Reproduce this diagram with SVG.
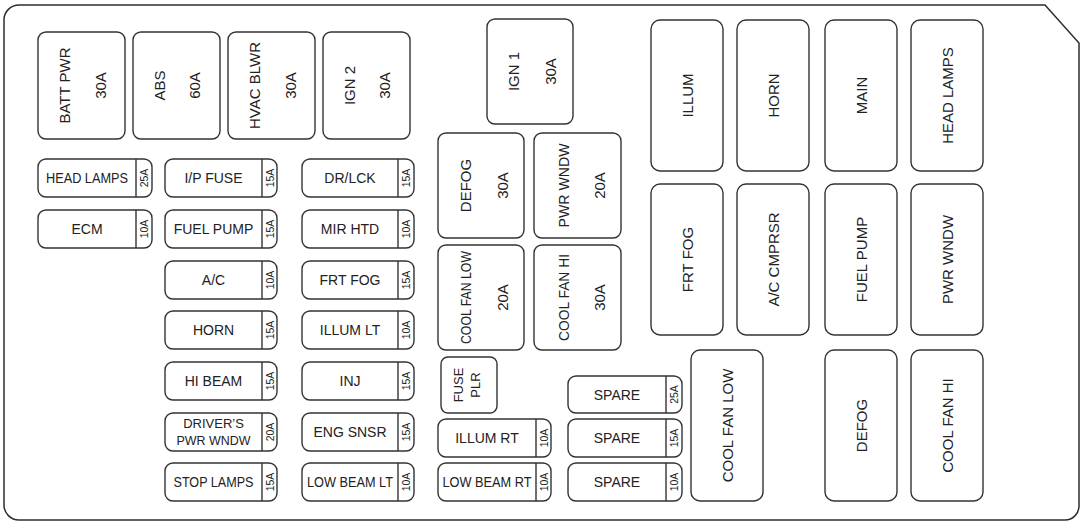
<svg xmlns="http://www.w3.org/2000/svg" width="1083" height="525" viewBox="0 0 1083 525">
<style>
.bg{fill:#fff}
.frame{fill:#fff;stroke:#2e2e2e;stroke-width:1.5}
.box{fill:#fff;stroke:#333;stroke-width:1.4}
.dv{stroke:#333;stroke-width:1.4}
text{font-family:"Liberation Sans",Arial,Helvetica,sans-serif;fill:#222;text-anchor:middle;dominant-baseline:central}
.t15{font-size:15px}
.t14{font-size:14px}
.t13{font-size:13px}
.ta{font-size:10.5px}
</style>
<rect class="bg" x="0" y="0" width="1083" height="525"/>
<path id="frame" class="frame" d="M19,5 H1045 L1079,43 V506 A14,14 0 0 1 1065,520 H19 A15,15 0 0 1 4,505 V20 A15,15 0 0 1 19,5 Z"/>
<g id="connectors"/>

<!-- Large fuses -->
<g id="batt-pwr"><rect class="box" x="38" y="32" width="87" height="107" rx="8"/><text class="t15" x="64.5" y="85.5" transform="rotate(-90 64.5 85.5)">BATT PWR</text><text class="t15" x="100.5" y="85.5" transform="rotate(-90 100.5 85.5)">30A</text></g>
<g id="abs"><rect class="box" x="133" y="32" width="87" height="107" rx="8"/><text class="t15" x="159.5" y="85.5" transform="rotate(-90 159.5 85.5)">ABS</text><text class="t15" x="194.5" y="85.5" transform="rotate(-90 194.5 85.5)">60A</text></g>
<g id="hvac-blwr"><rect class="box" x="228" y="32" width="87" height="107" rx="8"/><text class="t15" x="254.5" y="85.5" transform="rotate(-90 254.5 85.5)">HVAC BLWR</text><text class="t15" x="290.5" y="85.5" transform="rotate(-90 290.5 85.5)">30A</text></g>
<g id="ign2"><rect class="box" x="323" y="32" width="87" height="107" rx="8"/><text class="t15" x="349" y="85.5" transform="rotate(-90 349 85.5)">IGN 2</text><text class="t15" x="384.5" y="85.5" transform="rotate(-90 384.5 85.5)">30A</text></g>
<g id="ign1"><rect class="box" x="487" y="19" width="86" height="105" rx="8"/><text class="t15" x="513" y="71.5" transform="rotate(-90 513 71.5)">IGN 1</text><text class="t15" x="550" y="71.5" transform="rotate(-90 550 71.5)">30A</text></g>
<g id="defog-fuse"><rect class="box" x="438" y="133" width="86" height="105" rx="8"/><text class="t15" x="465" y="185.5" transform="rotate(-90 465 185.5)">DEFOG</text><text class="t15" x="502" y="185.5" transform="rotate(-90 502 185.5)">30A</text></g>
<g id="pwr-wndw-fuse"><rect class="box" x="534" y="133" width="87" height="105" rx="8"/><text class="t15" x="563" y="185.5" transform="rotate(-90 563 185.5)" textLength="84" lengthAdjust="spacingAndGlyphs">PWR WNDW</text><text class="t15" x="599" y="185.5" transform="rotate(-90 599 185.5)">20A</text></g>
<g id="cool-fan-low-fuse"><rect class="box" x="438" y="245" width="86" height="105" rx="8"/><text class="t15" x="465" y="297.5" transform="rotate(-90 465 297.5)" textLength="93" lengthAdjust="spacingAndGlyphs">COOL FAN LOW</text><text class="t15" x="502" y="297.5" transform="rotate(-90 502 297.5)">20A</text></g>
<g id="cool-fan-hi-fuse"><rect class="box" x="534" y="245" width="87" height="105" rx="8"/><text class="t15" x="563" y="297.5" transform="rotate(-90 563 297.5)" textLength="87" lengthAdjust="spacingAndGlyphs">COOL FAN HI</text><text class="t15" x="599" y="297.5" transform="rotate(-90 599 297.5)">30A</text></g>
<g id="fuse-plr"><rect class="box" x="441" y="357" width="56" height="56" rx="7"/><text class="t13" x="458" y="385" transform="rotate(-90 458 385)">FUSE</text><text class="t13" x="475" y="385" transform="rotate(-90 475 385)">PLR</text></g>

<!-- Relays -->
<g id="r-illum"><rect class="box" x="651" y="20" width="72" height="151" rx="9"/><text class="t15" x="687" y="95.5" transform="rotate(-90 687 95.5)">ILLUM</text></g>
<g id="r-horn"><rect class="box" x="737" y="20" width="72" height="151" rx="9"/><text class="t15" x="773" y="95.5" transform="rotate(-90 773 95.5)">HORN</text></g>
<g id="r-main"><rect class="box" x="825" y="20" width="72" height="151" rx="9"/><text class="t15" x="861" y="95.5" transform="rotate(-90 861 95.5)">MAIN</text></g>
<g id="r-head-lamps"><rect class="box" x="911" y="20" width="72" height="151" rx="9"/><text class="t15" x="947" y="95.5" transform="rotate(-90 947 95.5)">HEAD LAMPS</text></g>
<g id="r-frt-fog"><rect class="box" x="651" y="184" width="72" height="151" rx="9"/><text class="t15" x="687" y="259.5" transform="rotate(-90 687 259.5)">FRT FOG</text></g>
<g id="r-ac-cmprsr"><rect class="box" x="737" y="184" width="72" height="151" rx="9"/><text class="t15" x="773" y="259.5" transform="rotate(-90 773 259.5)">A/C CMPRSR</text></g>
<g id="r-fuel-pump"><rect class="box" x="825" y="184" width="72" height="151" rx="9"/><text class="t15" x="861" y="259.5" transform="rotate(-90 861 259.5)">FUEL PUMP</text></g>
<g id="r-pwr-wndw"><rect class="box" x="911" y="184" width="72" height="151" rx="9"/><text class="t15" x="947" y="259.5" transform="rotate(-90 947 259.5)">PWR WNDW</text></g>
<g id="r-cool-fan-low"><rect class="box" x="691" y="350" width="72" height="151" rx="9"/><text class="t15" x="727" y="425.5" transform="rotate(-90 727 425.5)">COOL FAN LOW</text></g>
<g id="r-defog"><rect class="box" x="825" y="350" width="72" height="151" rx="9"/><text class="t15" x="861" y="425.5" transform="rotate(-90 861 425.5)">DEFOG</text></g>
<g id="r-cool-fan-hi"><rect class="box" x="911" y="350" width="72" height="151" rx="9"/><text class="t15" x="947" y="425.5" transform="rotate(-90 947 425.5)">COOL FAN HI</text></g>

<!-- Mini fuses: column A -->
<g id="f-head-lamps"><rect class="box" x="38" y="159" width="114" height="38" rx="8"/><line class="dv" x1="136" y1="159" x2="136" y2="197"/><text class="t14" x="87" y="178" textLength="82" lengthAdjust="spacingAndGlyphs">HEAD LAMPS</text><text class="ta" x="144" y="178" transform="rotate(-90 144 178)">25A</text></g>
<g id="f-ecm"><rect class="box" x="38" y="210" width="114" height="38" rx="8"/><line class="dv" x1="136" y1="210" x2="136" y2="248"/><text class="t14" x="87" y="229">ECM</text><text class="ta" x="144" y="229" transform="rotate(-90 144 229)">10A</text></g>

<!-- column B -->
<g id="f-ip-fuse"><rect class="box" x="165" y="159" width="112" height="38" rx="8"/><line class="dv" x1="262" y1="159" x2="262" y2="197"/><text class="t14" x="213.5" y="178">I/P FUSE</text><text class="ta" x="269.5" y="178" transform="rotate(-90 269.5 178)">15A</text></g>
<g id="f-fuel-pump"><rect class="box" x="165" y="210" width="112" height="38" rx="8"/><line class="dv" x1="262" y1="210" x2="262" y2="248"/><text class="t14" x="213.5" y="229">FUEL PUMP</text><text class="ta" x="269.5" y="229" transform="rotate(-90 269.5 229)">15A</text></g>
<g id="f-ac"><rect class="box" x="165" y="261" width="112" height="38" rx="8"/><line class="dv" x1="262" y1="261" x2="262" y2="299"/><text class="t14" x="213.5" y="280">A/C</text><text class="ta" x="269.5" y="280" transform="rotate(-90 269.5 280)">10A</text></g>
<g id="f-horn"><rect class="box" x="165" y="311" width="112" height="38" rx="8"/><line class="dv" x1="262" y1="311" x2="262" y2="349"/><text class="t14" x="213.5" y="330">HORN</text><text class="ta" x="269.5" y="330" transform="rotate(-90 269.5 330)">15A</text></g>
<g id="f-hi-beam"><rect class="box" x="165" y="362" width="112" height="38" rx="8"/><line class="dv" x1="262" y1="362" x2="262" y2="400"/><text class="t14" x="213.5" y="381">HI BEAM</text><text class="ta" x="269.5" y="381" transform="rotate(-90 269.5 381)">15A</text></g>
<g id="f-drivers-pwr-wndw"><rect class="box" x="165" y="413" width="112" height="38" rx="8"/><line class="dv" x1="262" y1="413" x2="262" y2="451"/><text class="t13" x="213.5" y="423.5">DRIVER’S</text><text class="t13" x="213.5" y="440" textLength="74" lengthAdjust="spacingAndGlyphs">PWR WNDW</text><text class="ta" x="269.5" y="432" transform="rotate(-90 269.5 432)">20A</text></g>
<g id="f-stop-lamps"><rect class="box" x="165" y="463" width="112" height="38" rx="8"/><line class="dv" x1="262" y1="463" x2="262" y2="501"/><text class="t14" x="213.5" y="482" textLength="80" lengthAdjust="spacingAndGlyphs">STOP LAMPS</text><text class="ta" x="269.5" y="482" transform="rotate(-90 269.5 482)">15A</text></g>

<!-- column C -->
<g id="f-dr-lck"><rect class="box" x="302" y="159" width="112" height="38" rx="8"/><line class="dv" x1="398" y1="159" x2="398" y2="197"/><text class="t14" x="350" y="178">DR/LCK</text><text class="ta" x="406" y="178" transform="rotate(-90 406 178)">15A</text></g>
<g id="f-mir-htd"><rect class="box" x="302" y="210" width="112" height="38" rx="8"/><line class="dv" x1="398" y1="210" x2="398" y2="248"/><text class="t14" x="350" y="229">MIR HTD</text><text class="ta" x="406" y="229" transform="rotate(-90 406 229)">10A</text></g>
<g id="f-frt-fog"><rect class="box" x="302" y="261" width="112" height="38" rx="8"/><line class="dv" x1="398" y1="261" x2="398" y2="299"/><text class="t14" x="350" y="280">FRT FOG</text><text class="ta" x="406" y="280" transform="rotate(-90 406 280)">15A</text></g>
<g id="f-illum-lt"><rect class="box" x="302" y="311" width="112" height="38" rx="8"/><line class="dv" x1="398" y1="311" x2="398" y2="349"/><text class="t14" x="350" y="330">ILLUM LT</text><text class="ta" x="406" y="330" transform="rotate(-90 406 330)">10A</text></g>
<g id="f-inj"><rect class="box" x="302" y="362" width="112" height="38" rx="8"/><line class="dv" x1="398" y1="362" x2="398" y2="400"/><text class="t14" x="350" y="381">INJ</text><text class="ta" x="406" y="381" transform="rotate(-90 406 381)">15A</text></g>
<g id="f-eng-snsr"><rect class="box" x="302" y="413" width="112" height="38" rx="8"/><line class="dv" x1="398" y1="413" x2="398" y2="451"/><text class="t14" x="350" y="432">ENG SNSR</text><text class="ta" x="406" y="432" transform="rotate(-90 406 432)">15A</text></g>
<g id="f-low-beam-lt"><rect class="box" x="302" y="463" width="112" height="38" rx="8"/><line class="dv" x1="398" y1="463" x2="398" y2="501"/><text class="t14" x="350" y="482" textLength="86" lengthAdjust="spacingAndGlyphs">LOW BEAM LT</text><text class="ta" x="406" y="482" transform="rotate(-90 406 482)">10A</text></g>

<!-- column D -->
<g id="f-illum-rt"><rect class="box" x="438" y="419" width="113" height="38" rx="8"/><line class="dv" x1="536" y1="419" x2="536" y2="457"/><text class="t14" x="487" y="438">ILLUM RT</text><text class="ta" x="543.5" y="438" transform="rotate(-90 543.5 438)">10A</text></g>
<g id="f-low-beam-rt"><rect class="box" x="438" y="463" width="113" height="38" rx="8"/><line class="dv" x1="536" y1="463" x2="536" y2="501"/><text class="t14" x="487" y="482" textLength="89" lengthAdjust="spacingAndGlyphs">LOW BEAM RT</text><text class="ta" x="543.5" y="482" transform="rotate(-90 543.5 482)">10A</text></g>

<!-- column E -->
<g id="f-spare-25"><rect class="box" x="568" y="376" width="114" height="37" rx="8"/><line class="dv" x1="666" y1="376" x2="666" y2="413"/><text class="t14" x="617" y="394.5">SPARE</text><text class="ta" x="674" y="394.5" transform="rotate(-90 674 394.5)">25A</text></g>
<g id="f-spare-15"><rect class="box" x="568" y="419" width="114" height="38" rx="8"/><line class="dv" x1="666" y1="419" x2="666" y2="457"/><text class="t14" x="617" y="438">SPARE</text><text class="ta" x="674" y="438" transform="rotate(-90 674 438)">15A</text></g>
<g id="f-spare-10"><rect class="box" x="568" y="463" width="114" height="38" rx="8"/><line class="dv" x1="666" y1="463" x2="666" y2="501"/><text class="t14" x="617" y="482">SPARE</text><text class="ta" x="674" y="482" transform="rotate(-90 674 482)">10A</text></g>
</svg>
